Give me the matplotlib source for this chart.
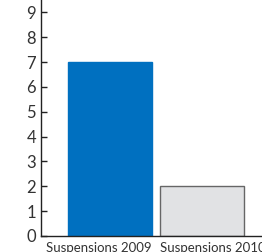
import matplotlib
matplotlib.use('Agg')
import matplotlib.pyplot as plt
import numpy as np

categories = ['Suspensions 2009', 'Suspensions 2010']
values = [7, 2]
bar_colors = ['#0070C0', '#E1E2E4']
edge_colors = ['#0070C0', '#666666']
bar_width = 0.91

plt.rcParams['font.family'] = ['Lato', 'DejaVu Sans']

fig = plt.figure(figsize=(2.62, 2.52), dpi=100)
ax = fig.add_axes([41 / 262, 16 / 252, 1 - 41 / 262, 1 - 16 / 252])

x = np.arange(len(categories))
ax.bar(x, values, width=bar_width, color=bar_colors, edgecolor=edge_colors, linewidth=1)

ax.set_xlim(-0.745, 1.65)
ax.set_ylim(0, 9.5)
ax.set_yticks(range(0, 10))
ax.set_xticks([])

# category labels: first one ends at its bar's right edge, second starts at its bar's left edge
ax.annotate(categories[0], xy=(x[0] + bar_width / 2, 0), xycoords=('data', 'axes fraction'),
            xytext=(0, -4), textcoords='offset points', ha='right', va='top',
            fontsize=9.5, color='#333333')
ax.annotate(categories[1], xy=(x[1] - bar_width / 2, 0), xycoords=('data', 'axes fraction'),
            xytext=(0, -4), textcoords='offset points', ha='left', va='top',
            fontsize=9.5, color='#333333', annotation_clip=False)

for s in ['top', 'right']:
    ax.spines[s].set_visible(False)
for s in ['left', 'bottom']:
    ax.spines[s].set_color('#222222')
    ax.spines[s].set_linewidth(1)

ax.tick_params(axis='y', direction='in', length=4, width=1, color='#222222',
               labelsize=12, labelcolor='#333333', pad=3.5)

fig.savefig('out.png', dpi=100)
